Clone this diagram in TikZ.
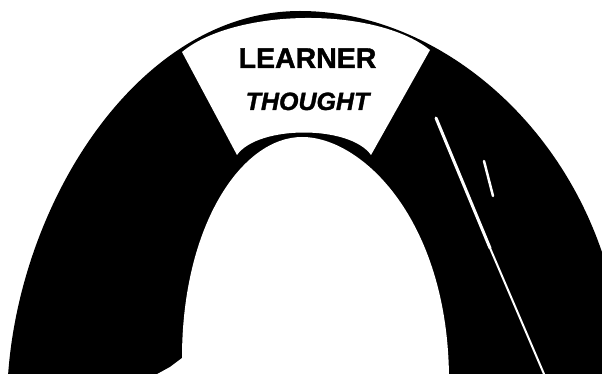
\documentclass[tikz,border=0pt]{standalone}
\usepackage{fontspec}
\setmainfont{Liberation Sans}[BoldFeatures={FakeBold=1.3},BoldItalicFeatures={FakeBold=1.3}]
\begin{document}
\begin{tikzpicture}[x=1pt,y=-1pt,
  lbl/.style={inner sep=0pt,anchor=base,text=black},
  speck/.style={draw=white,line cap=round}]
\useasboundingbox (0,0) rectangle (602,374);
\clip (0,0) rectangle (602,374);
\fill[white] (0,0) rectangle (602,374);
% black arch
\fill[black] (8,376) .. controls (20,200) and (140,11) .. (300,11)
  .. controls (440,11) and (580,130) .. (615,300) -- (620,380) -- (8,380) -- cycle;
% inner opening
\fill[white] (182,358) .. controls (182,225) and (242,137) .. (302,137)
  .. controls (362,137) and (448,220) .. (449,378) -- (150,378) -- (170,367) -- cycle;
% white label panel
\fill[white] (182,52) .. controls (235,8) and (375,6) .. (430,50) -- (371,155) .. controls (350,125) and (258,125) .. (237,155) -- cycle;
% scratches
\draw[speck,line width=3pt] (436,118) -- (490,248);
\draw[speck,line width=2pt] (490,248) -- (544,374);
\draw[speck,line width=2.5pt] (484,161) -- (493,196);
\node[lbl,font=\bfseries\fontsize{28.5}{30}\selectfont] (learner) at (307.5,68) {LEARNER};
\node[lbl,font=\bfseries\itshape\fontsize{25}{27}\selectfont] (thought) at (307.5,110) {THOUGHT};
\end{tikzpicture}
\end{document}
